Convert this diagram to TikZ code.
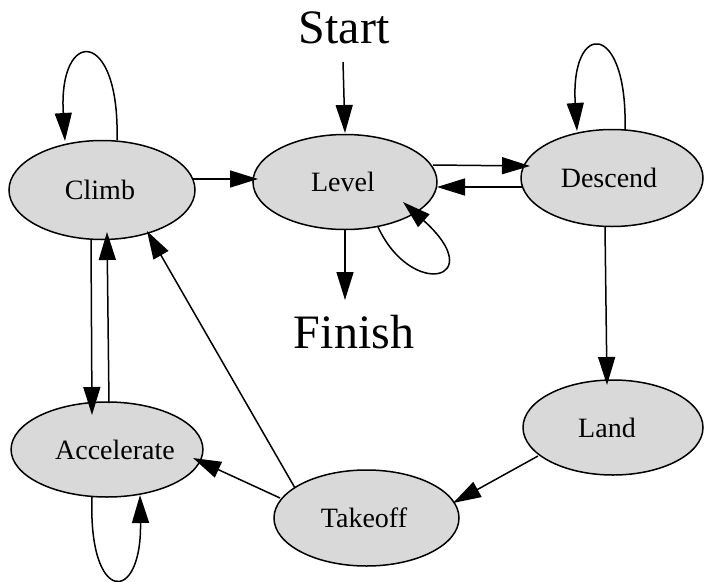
\documentclass[tikz,border=0pt]{standalone}
\usepackage{fontspec}
\setmainfont{Liberation Serif}
\usetikzlibrary{shapes.geometric,arrows.meta,calc}
\definecolor{nodefill}{RGB}{217,217,217}
\begin{document}
\begin{tikzpicture}[x=1pt,y=-1pt,
  state/.style={ellipse,draw=black,fill=nodefill,line width=1.5pt,inner sep=0pt,
    font=\fontsize{28}{34}\selectfont},
  edge/.style={line width=1.5pt,-{Triangle[length=28pt,width=17pt]}},
  big/.style={font=\fontsize{48}{58}\selectfont,inner sep=0pt}
]
\useasboundingbox (0,0) rectangle (704,581);

\node[state,minimum width=186pt,minimum height=99pt] (climb) at (102,190) {Climb\hspace*{4pt}};
\node[state,minimum width=184pt,minimum height=95pt] (level) at (345,182) {Level\hspace*{4pt}};
\node[state,minimum width=182pt,minimum height=97pt] (descend) at (612,178) {Descend\hspace*{6pt}};
\node[state,minimum width=180pt,minimum height=95pt] (land) at (613,427.5) {Land\hspace*{12pt}};
\node[state,minimum width=185pt,minimum height=96pt] (takeoff) at (366.5,518) {Takeoff\hspace*{5pt}};
\node[state,minimum width=186pt,minimum height=95pt] (accel) at (107,449.5) {\hspace*{16pt}Accelerate};

\node[big,anchor=base] (start) at (344,43) {Start};
\node[big,anchor=base] (finish) at (354,348) {Finish};

% straight edges
\draw[edge] ($(start.base)+(-1,19)$) -- ($(level)+(0,-49)$);
\draw[edge] ($(level)+(0,48)$) -- ($(finish.base)+(-9,-48)$);
\draw[edge] ($(climb)+(91,-11)$) -- ($(level)+(-87,-3)$);
\draw[edge] ($(level)+(88,-17)$) -- ($(descend)+(-82,-12)$);
\draw[edge] ($(descend)+(-90,9)$) -- ($(level)+(92,5)$);
\draw[edge] ($(descend)+(-7,49)$) -- ($(land)+(-6,-42.5)$);
\draw[edge] ($(land)+(-75,28.5)$) -- ($(takeoff)+(86.5,-15)$);
\draw[edge] ($(takeoff)+(-86.5,-20)$) -- ($(accel)+(86,8.5)$);
\draw[edge] ($(takeoff)+(-71.5,-30)$) -- ($(climb)+(45,41)$);
\draw[edge] ($(climb)+(-11,49)$) -- ($(accel)+(-15,-34.5)$);
\draw[edge] ($(accel)+(2,-46.5)$) -- ($(climb)+(5,42)$);

% self loops
\draw[edge] ($(climb)+(15,-50)$) .. controls ($(climb)+(18,-163)$) and ($(climb)+(-44,-163)$) .. ($(climb)+(-37,-49)$);
\draw[edge] ($(descend)+(13,-48)$) .. controls ($(descend)+(16,-158)$) and ($(descend)+(-42,-158)$) .. ($(descend)+(-35,-47)$);
\draw[edge] ($(level)+(33,45)$) .. controls ($(level)+(67,118)$) and ($(level)+(145,98)$) .. ($(level)+(58,20)$);
\draw[edge] ($(accel)+(-15,47.5)$) .. controls ($(accel)+(-19,155.5)$) and ($(accel)+(35,155.5)$) .. ($(accel)+(33,45.5)$);
\end{tikzpicture}
\end{document}
